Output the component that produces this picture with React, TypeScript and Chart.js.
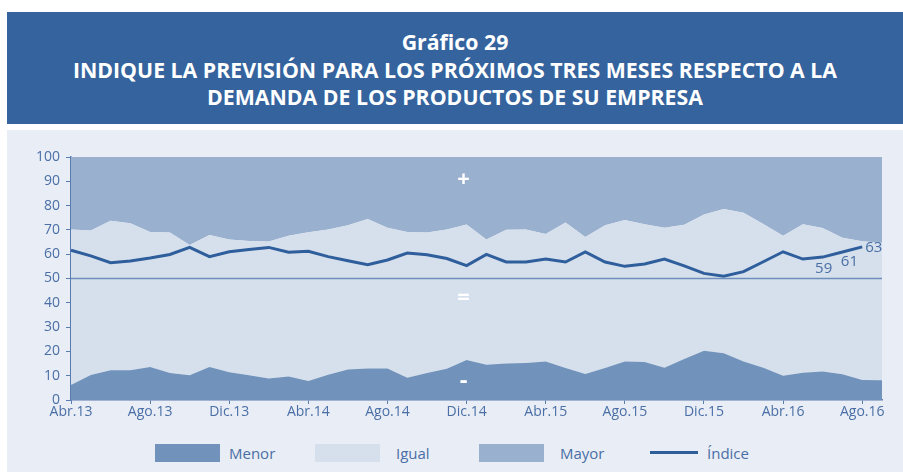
import React, { useEffect, useRef } from "react";
import { Chart, registerables } from "chart.js";

Chart.register(...registerables);

const months: string[] = [
  "Abr.13", "May.13", "Jun.13", "Jul.13", "Ago.13", "Sep.13", "Oct.13", "Nov.13", "Dic.13",
  "Ene.14", "Feb.14", "Mar.14", "Abr.14", "May.14", "Jun.14", "Jul.14", "Ago.14", "Sep.14", "Oct.14", "Nov.14", "Dic.14",
  "Ene.15", "Feb.15", "Mar.15", "Abr.15", "May.15", "Jun.15", "Jul.15", "Ago.15", "Sep.15", "Oct.15", "Nov.15", "Dic.15",
  "Ene.16", "Feb.16", "Mar.16", "Abr.16", "May.16", "Jun.16", "Jul.16", "Ago.16", "Sep.16",
];

const menor: number[] = [
  6.2, 10.3, 12.2, 12.2, 13.6, 11.1, 10.2, 13.6, 11.4, 10.2,
  8.8, 9.7, 7.8, 10.4, 12.6, 13.0, 13.0, 9.2, 11.1, 12.9,
  16.5, 14.5, 15.0, 15.2, 15.8, 13.2, 10.7, 13.2, 15.8, 15.6,
  13.3, 16.9, 20.3, 19.2, 15.8, 13.3, 10.0, 11.2, 11.7, 10.6,
  8.2, 8.1,
];

const igual: number[] = [
  64.0, 59.5, 61.6, 60.5, 55.5, 57.8, 53.6, 54.3, 54.7, 55.2,
  56.4, 57.9, 61.2, 59.8, 59.3, 61.5, 57.9, 59.9, 57.8, 57.3,
  55.7, 51.6, 55.1, 55.0, 52.5, 59.8, 56.4, 58.7, 58.3, 56.7,
  57.6, 55.2, 56.0, 59.4, 61.3, 59.1, 57.6, 61.1, 59.1, 56.2,
  57.1, 56.6,
];

const mayor: number[] = [
  29.8, 30.2, 26.2, 27.3, 30.9, 31.1, 36.2, 32.1, 33.9, 34.6,
  34.8, 32.4, 31.0, 29.8, 28.1, 25.5, 29.1, 30.9, 31.1, 29.8,
  27.8, 33.9, 29.9, 29.8, 31.7, 27.0, 32.9, 28.1, 25.9, 27.7,
  29.1, 27.9, 23.7, 21.4, 22.9, 27.6, 32.4, 27.7, 29.2, 33.2,
  34.7, 35.3,
];

const indice: number[] = [
  61.6, 59.3, 56.5, 57.2, 58.4, 59.9, 62.8, 59.0, 61.0, 61.9,
  62.8, 60.8, 61.2, 59.0, 57.3, 55.7, 57.6, 60.5, 59.8, 58.2,
  55.3, 59.9, 56.8, 56.8, 58.0, 56.8, 60.9, 56.8, 55.0, 56.0,
  58.0, 55.2, 52.1, 50.9, 52.8, 56.9, 61.0, 58.0, 58.8, 60.9,
  63.0,
];

const labeledPoints: number[] = [38, 39, 40];
const referenceValue = 50;

const FONT = '"Open Sans", "Noto Sans", sans-serif';
const TEXT_COLOR = "#4A6FA6";
const AXIS_COLOR = "#5A7DB0";
const C_MENOR = "#7192BA";
const C_IGUAL = "#D6E0EC";
const C_MAYOR = "#9AB0CF";
const C_INDICE = "#2F5E9C";

const overlayPlugin = {
  id: "overlay",
  afterDatasetsDraw(chart: any) {
    const { ctx, chartArea, scales } = chart;
    const x = scales.x;
    const y = scales.y;
    ctx.save();
    // reference line at 50
    const y50 = y.getPixelForValue(referenceValue);
    ctx.strokeStyle = "#6E8EBC";
    ctx.lineWidth = 1.5;
    ctx.beginPath();
    ctx.moveTo(chartArea.left, y50);
    ctx.lineTo(chartArea.right, y50);
    ctx.stroke();

    // zone symbols
    const sx = x.getPixelForValue(20) - 3;
    ctx.fillStyle = "#FFFFFF";
    ctx.textAlign = "center";
    ctx.textBaseline = "middle";
    ctx.font = `bold 22px ${FONT}`;
    ctx.fillText("+", sx, y.getPixelForValue(90.6));
    ctx.fillText("=", sx, y.getPixelForValue(42));
    ctx.font = `bold 24px ${FONT}`;
    ctx.fillText("-", sx, y.getPixelForValue(7.6));

    // value labels
    const meta = chart.getDatasetMeta(0);
    ctx.fillStyle = TEXT_COLOR;
    ctx.font = `15px ${FONT}`;
    labeledPoints.forEach((idx, k) => {
      const pt = meta.data[idx];
      if (!pt) return;
      const txt = String(Math.round(indice[idx]));
      if (k === labeledPoints.length - 1) {
        ctx.textAlign = "left";
        ctx.textBaseline = "middle";
        ctx.fillText(txt, pt.x + 3, pt.y + 1);
      } else {
        ctx.textAlign = "center";
        ctx.textBaseline = "middle";
        ctx.fillText(txt, pt.x + (k === 0 ? 1 : 7), pt.y + (k === 0 ? 12 : 10));
      }
    });
    ctx.restore();
  },
};

function LegendItem({ left, kind, color, label, textLeft }: any) {
  return (
    <>
      {kind === "box" ? (
        <div style={{ position: "absolute", left, top: 444, width: 65, height: 18, background: color }} />
      ) : (
        <div style={{ position: "absolute", left, top: 451, width: 48, height: 3, background: color }} />
      )}
      <div
        style={{
          position: "absolute",
          left: textLeft,
          top: 443,
          height: 20,
          lineHeight: "20px",
          fontFamily: FONT,
          fontSize: 15,
          color: TEXT_COLOR,
          whiteSpace: "nowrap",
        }}
      >
        {label}
      </div>
    </>
  );
}

export default function App() {
  const canvasRef = useRef<HTMLCanvasElement | null>(null);

  useEffect(() => {
    document.body.style.margin = "0";
    const canvas = canvasRef.current;
    if (!canvas) return;
    const chart = new Chart(canvas, {
      type: "line",
      data: {
        labels: months,
        datasets: [
          {
            label: "Índice",
            data: indice,
            borderColor: C_INDICE,
            borderWidth: 3,
            pointRadius: 0,
            fill: false,
            stack: "idx",
            tension: 0,
          },
          {
            label: "Menor",
            data: menor,
            backgroundColor: C_MENOR,
            borderColor: "rgba(0,0,0,0)",
            borderWidth: 0,
            pointRadius: 0,
            fill: "origin",
            stack: "areas",
            tension: 0,
          },
          {
            label: "Igual",
            data: igual,
            backgroundColor: C_IGUAL,
            borderColor: "rgba(0,0,0,0)",
            borderWidth: 0,
            pointRadius: 0,
            fill: "-1",
            stack: "areas",
            tension: 0,
          },
          {
            label: "Mayor",
            data: mayor,
            backgroundColor: C_MAYOR,
            borderColor: "rgba(0,0,0,0)",
            borderWidth: 0,
            pointRadius: 0,
            fill: "-1",
            stack: "areas",
            tension: 0,
          },
        ],
      },
      options: {
        animation: false,
        responsive: false,
        maintainAspectRatio: false,
        layout: { padding: { left: 0, right: 21, top: 27, bottom: 0 } },
        plugins: {
          legend: { display: false },
          tooltip: { enabled: false },
        },
        scales: {
          x: {
            type: "category",
            offset: false,
            grid: {
              display: true,
              drawOnChartArea: false,
              drawTicks: true,
              tickLength: 4,
              color: AXIS_COLOR,
            },
            border: { display: true, color: AXIS_COLOR, width: 1.5 },
            ticks: {
              autoSkip: false,
              maxRotation: 0,
              minRotation: 0,
              padding: 0,
              color: TEXT_COLOR,
              font: { family: FONT, size: 14 },
              callback: (_v: any, i: number) => (i % 4 === 0 && i <= 40 ? months[i] : null),
            },
            afterFit: (s: any) => {
              s.height = 30;
            },
          },
          y: {
            stacked: true,
            min: 0,
            max: 100,
            grid: {
              display: true,
              drawOnChartArea: false,
              drawTicks: true,
              tickLength: 5,
              color: AXIS_COLOR,
            },
            border: { display: true, color: AXIS_COLOR, width: 1.5 },
            ticks: {
              stepSize: 10,
              padding: 6,
              color: TEXT_COLOR,
              font: { family: FONT, size: 14 },
            },
            afterFit: (s: any) => {
              s.width = 64;
            },
          },
        },
      },
      plugins: [overlayPlugin],
    } as any);
    return () => chart.destroy();
  }, []);

  return (
    <div style={{ position: "absolute", left: 0, top: 0, width: 903, height: 472, background: "#FFFFFF", overflow: "hidden" }}>
      <div
        style={{
          position: "absolute",
          left: 7,
          top: 12,
          width: 896,
          height: 112,
          background: "#34639E",
          color: "#FFFFFF",
          fontFamily: FONT,
          fontWeight: 700,
          fontSize: 21.3,
          lineHeight: "27.5px",
          textAlign: "center",
          paddingTop: 16,
          boxSizing: "border-box",
          whiteSpace: "nowrap",
        }}
      >
        <div>Gráfico 29</div>
        <div>INDIQUE LA PREVISIÓN PARA LOS PRÓXIMOS TRES MESES RESPECTO A LA</div>
        <div>DEMANDA DE LOS PRODUCTOS DE SU EMPRESA</div>
      </div>
      <div style={{ position: "absolute", left: 7, top: 130, width: 896, height: 342, background: "#E9EDF5" }}>
        <canvas ref={canvasRef} width={896} height={300} style={{ display: "block", width: 896, height: 300 }} />
      </div>
      <LegendItem left={155} kind="box" color={C_MENOR} label="Menor" textLeft={229} />
      <LegendItem left={315} kind="box" color={C_IGUAL} label="Igual" textLeft={396} />
      <LegendItem left={479} kind="box" color={C_MAYOR} label="Mayor" textLeft={560} />
      <LegendItem left={650} kind="line" color={C_INDICE} label="Índice" textLeft={707} />
    </div>
  );
}
